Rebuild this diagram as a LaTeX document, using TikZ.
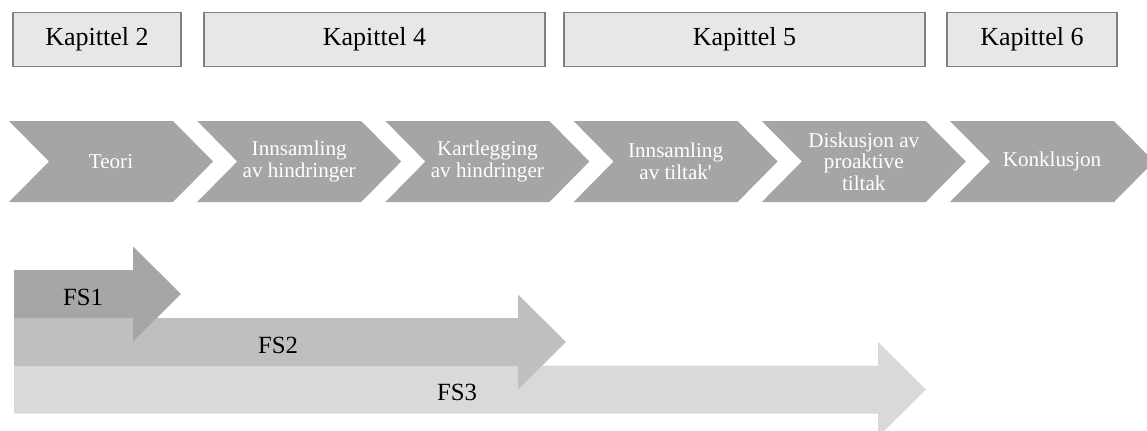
\documentclass[tikz,border=0pt]{standalone}
\usepackage{fontspec}
\setmainfont{Liberation Serif}
\usepackage{tikz}
\usetikzlibrary{calc}
\usepackage{xcolor}
\definecolor{kapfill}{HTML}{E7E7E7}
\definecolor{kapline}{HTML}{7F7F7F}
\definecolor{chevgray}{HTML}{A5A5A5}
\definecolor{fsone}{HTML}{A6A6A6}
\definecolor{fstwo}{HTML}{BFBFBF}
\definecolor{fsthree}{HTML}{D9D9D9}

\begin{document}
\begin{tikzpicture}[x=0.025cm, y=-0.025cm,
  kapbox/.style={draw=kapline, line width=1.4pt, fill=kapfill, inner sep=0pt, minimum height=1.35cm, font=\fontsize{18.5}{20}\selectfont},
  chevtext/.style={text=white, align=center, font=\fontsize{15}{15.4}\selectfont},
  fslabel/.style={font=\fontsize{17.6}{20}\selectfont}]
  \useasboundingbox (0,0) rectangle (1147,430);

  % Chapters
  \node[kapbox, minimum width=4.2cm]   (kap2) at (97,39.5)    {Kapittel 2};
  \node[kapbox, minimum width=8.525cm] (kap4) at (374.5,39.5) {Kapittel 4};
  \node[kapbox, minimum width=9.025cm] (kap5) at (744.5,39.5) {Kapittel 5};
  \node[kapbox, minimum width=4.25cm]  (kap6) at (1032,39.5)  {Kapittel 6};

  % Process chevrons
  \foreach \i/\txt in {0/Teori, 1/{Innsamling\\av hindringer}, 2/{Kartlegging\\av hindringer},
                       3/{Innsamling\\av tiltak\textquotesingle}, 4/{Diskusjon av\\proaktive\\tiltak}, 5/Konklusjon} {
    \pgfmathsetmacro{\lx}{9+188.2*\i}
    \fill[chevgray] (\lx,121) -- ++(164,0) -- ++(40,40.5) -- ++(-40,40.5) -- ++(-164,0) -- ++(40,-40.5) -- cycle;
    \node[chevtext] (fase\i) at (\lx+102,161.5) {\txt};
  }

  % Research questions (drawn back to front)
  \foreach \n/\y/\b/\col/\lx in {3/389.5/878/fsthree/457, 2/342/518/fstwo/278, 1/294/133/fsone/83} {
    \fill[\col] (14,\y-24) -- (\b,\y-24) -- (\b,\y-47.5) -- (\b+48,\y) -- (\b,\y+47.5) -- (\b,\y+24) -- (14,\y+24) -- cycle;
    \node[fslabel] (fs\n) at (\lx,\y+3) {FS\n};
  }

\end{tikzpicture}
\end{document}
